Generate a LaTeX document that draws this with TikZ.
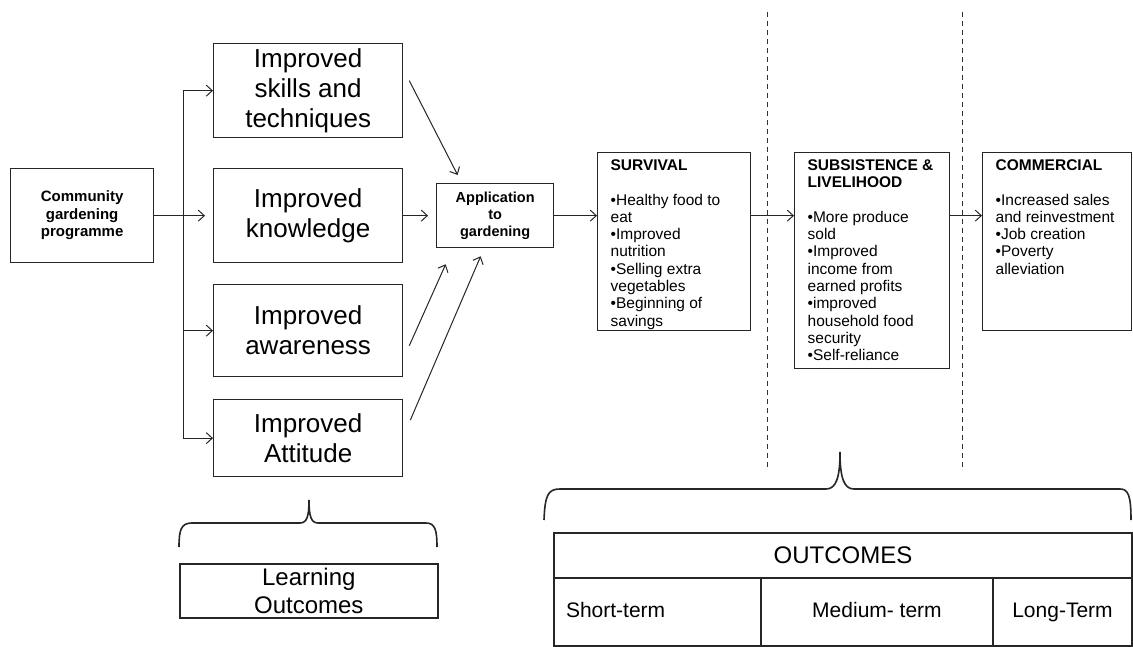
\documentclass[tikz,border=0pt]{standalone}
\usepackage{fontspec}
\setmainfont{Liberation Sans}
\usetikzlibrary{arrows.meta,calc}
\begin{document}
\begin{tikzpicture}[x=1pt,y=-1pt,
  bx/.style={draw=black!85,line width=1.3pt,inner sep=0pt,anchor=north west,align=center},
  big/.style={bx,font=\fontsize{26}{30}\selectfont},
  stage/.style={draw=black!85,line width=1.3pt,anchor=north west,inner xsep=13pt,inner ysep=7pt,font=\fontsize{15.5}{17.3}\selectfont},
  ln/.style={draw=black!85,line width=1pt},
  arr/.style={ln,-{Straight Barb[length=6pt,width=11pt,line width=1pt]}},
  sepline/.style={draw=black!80,line width=1pt,dash pattern=on 5pt off 4pt},
  brace/.style={draw=black!85,line width=1.6pt},
  cell/.style={draw=black!85,line width=2pt,anchor=north west,inner sep=0pt,font=\fontsize{21}{24}\selectfont},
  lowcell/.style={cell,minimum height=68,text height=11pt,text depth=1pt}
]
\fill[white] (0,0) rectangle (1133,647);
\useasboundingbox (0,0) rectangle (1133,647);

% left column
\node[bx,font=\bfseries\fontsize{15}{17.5}\selectfont,minimum width=143,minimum height=94] (comm) at (10,168) {Community\\gardening\\programme};
\node[big,minimum width=189,minimum height=94] (skills) at (213,43) {Improved\\skills and\\techniques};
\node[big,minimum width=189,minimum height=94] (know) at (213,168) {Improved\\knowledge};
\node[big,minimum width=189,minimum height=92] (aware) at (213,284) {Improved\\awareness};
\node[big,minimum width=189,minimum height=77] (att) at (213,399) {Improved\\Attitude};
\node[bx,font=\bfseries\fontsize{14.5}{17}\selectfont,minimum width=117,minimum height=64] (app) at (436,183) {Application\\to\\gardening};

% stage boxes
\node[stage] (surv) at (597,152) {\parbox[c][164pt][t]{127pt}{\raggedright\textbf{SURVIVAL}\\[17.3pt]%
•Healthy food to\\eat\\•Improved\\nutrition\\•Selling extra\\vegetables\\•Beginning of\\savings}};
\node[stage] (subs) at (794,152) {\parbox[c][202pt][t]{129pt}{\raggedright\textbf{SUBSISTENCE \&}\\\textbf{LIVELIHOOD}\\[17.3pt]%
•More produce\\sold\\•Improved\\income from\\earned profits\\•improved\\household food\\security\\•Self-reliance}};
\node[stage] (comr) at (982,152) {\parbox[c][164pt][t]{123pt}{\raggedright\textbf{COMMERCIAL}\\[17.3pt]%
•Increased sales\\and reinvestment\\•Job creation\\•Poverty\\alleviation}};

% learning outcomes
\node[bx,line width=1.6pt,font=\fontsize{24}{28}\selectfont,minimum width=258,minimum height=54] (lo) at (179,563) {Learning\\Outcomes};

% outcomes table
\node[cell,minimum width=578,minimum height=45,font=\fontsize{24}{28}\selectfont] (outc) at (553,532) {OUTCOMES};
\node[lowcell,minimum width=207,text width=183pt,inner xsep=12pt,align=left] (short) at (553,577) {Short-term};
\node[lowcell,minimum width=232] (med) at (760,577) {Medium- term};
\node[lowcell,minimum width=139] (long) at (992,577) {Long-Term};

% tree connectors
\coordinate (trunk) at (183,215);
\draw[arr] (comm.east) -- ([xshift=-8pt]know.west);
\draw[ln] (trunk |- skills.west) -- (trunk |- att.west);
\draw[arr] (trunk |- skills.west) -- (skills.west);
\draw[arr] (trunk |- aware.west) -- (aware.west);
\draw[arr] (trunk |- att.west) -- (att.west);

% into application
\draw[arr] (know.east) -- ([xshift=-8pt]app.west);
\draw[arr] ($(skills.east)+(6,-10)$) -- ($(app.north)+(-37.5,-8)$);
\draw[arr] ($(aware.east)+(6,15)$) -- ($(app.south)+(-49.5,16)$);
\draw[arr] ($(att.east)+(7,-18)$) -- ($(app.south)+(-14.5,8)$);

% stage chain
\draw[arr] (app.east) -- (app.east -| surv.west);
\draw[arr] (app.east -| surv.east) -- (app.east -| subs.west);
\draw[arr] (app.east -| subs.east) -- (app.east -| comr.west);

% dashed separators
\coordinate (d1t) at (767,12); \coordinate (d1b) at (767,470);
\coordinate (d2t) at (962,12); \coordinate (d2b) at (962,470);
\draw[sepline] (d1t) -- (d1b);
\draw[sepline] (d2t) -- (d2b);

% braces
\draw[brace] (179,547) .. controls (179,530) and (181,523) .. (192,523) -- (300,523)
  .. controls (307,523) and (309,516) .. (309,500)
  .. controls (309,516) and (311,523) .. (318,523) -- (426,523)
  .. controls (435,523) and (437,530) .. (437,547);
\draw[brace] (544,520) .. controls (545,495) and (548,489) .. (560,489) -- (826,489)
  .. controls (836,489) and (840,478) .. (840,452)
  .. controls (840,478) and (844,489) .. (854,489) -- (1120,489)
  .. controls (1128,489) and (1131,495) .. (1131,520);
\end{tikzpicture}
\end{document}
